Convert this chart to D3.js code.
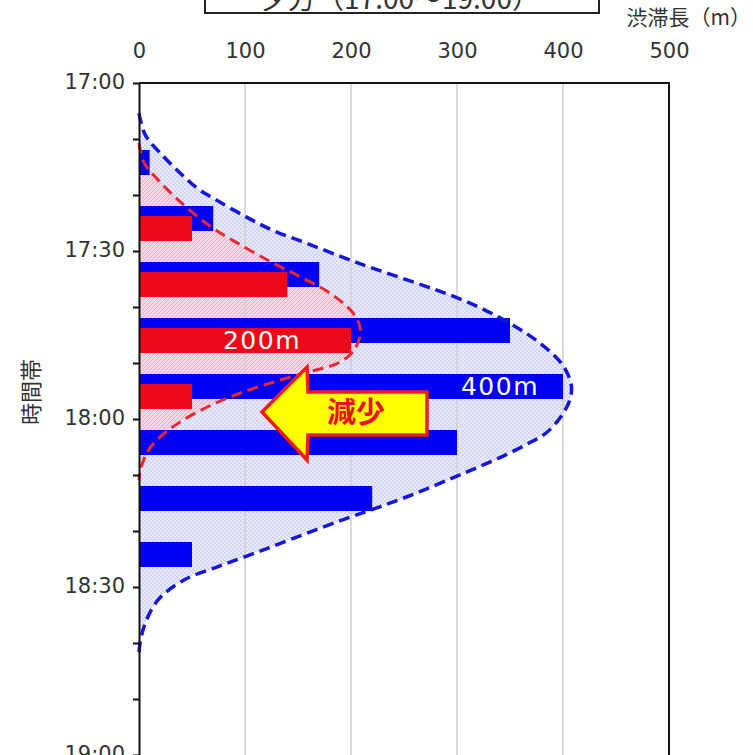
<!DOCTYPE html>
<html>
<head>
<meta charset="utf-8">
<script src="https://cdn.jsdelivr.net/npm/d3@7"></script>
<style>
  html, body { margin: 0; padding: 0; background: #fff; }
  svg { display: block; }
  text { font-family: "DejaVu Sans", Verdana, sans-serif; }
  .jp { font-family: "Noto Sans CJK JP", sans-serif; }
</style>
</head>
<body>
<div id="chart"></div>
<script>
// slots of 10 minutes, counted in minutes after 17:00
var slotStart = [10, 20, 30, 40, 50, 60, 70, 80];
var beforeLen = [10, 70, 170, 350, 400, 300, 220, 50];   // blue
var afterLen  = [0, 50, 140, 200, 50, 0, 0, 0];         // red

var xTicks = [0, 100, 200, 300, 400, 500];
var yTicks = [0, 10, 20, 30, 40, 50, 60, 70, 80, 90, 100, 110, 120];
var yLabels = {0: "17:00", 30: "17:30", 60: "18:00", 90: "18:30", 120: "19:00"};

// envelope curves: minute, length
var blueCurveMin = [5.4, 9.3, 12.9, 16.1, 18.8, 20.9, 23.9, 26.3, 28.6, 31.1, 32.9, 36.4, 38.2, 40.5, 43.6, 46.4, 49.5, 51.8, 54.3, 56.8, 59.6, 62.5, 64.3, 66.5, 68.6, 70.5, 73.2, 75.7, 78.0, 81.0, 83.9, 86.4, 88.8, 92.3, 96.4, 100.0, 101.8];
var blueCurveVal = [0, 6, 22, 39, 55, 73, 101, 126, 158, 192, 218, 272, 298, 326, 356, 378, 396, 404, 408, 406, 398, 384, 368, 345, 320, 296, 262, 227, 192, 150, 110, 74, 42, 18, 6, 1, 0];
var redCurveMin = [10.7, 14.3, 17.3, 21.4, 25.7, 28.6, 32.1, 34.6, 37.5, 41.1, 44.1, 47.7, 50.0, 51.3, 53.0, 55.2, 57.9, 61.4, 65.0, 68.6, 70.9];
var redCurveVal = [0, 5, 18, 40, 68, 93, 126, 152, 180, 202, 209, 203, 188, 166, 134, 98, 64, 32, 11, 2, 0];

var W = 753, H = 755;
var svg = d3.select("#chart").append("svg").attr("width", W).attr("height", H);

var x = d3.scaleLinear().domain([0, 500]).range([139, 669]);
var y = d3.scaleLinear().domain([0, 120]).range([83, 755]);

// patterns for the shaded envelopes
var defs = svg.append("defs");
var bp = defs.append("pattern").attr("id", "bluePat").attr("patternUnits", "userSpaceOnUse")
  .attr("width", 4).attr("height", 4);
bp.append("rect").attr("width", 4).attr("height", 4).attr("fill", "#e9ebfc");
bp.append("circle").attr("cx", 1).attr("cy", 1).attr("r", 0.9).attr("fill", "#c8ccf3");
bp.append("circle").attr("cx", 3).attr("cy", 3).attr("r", 0.9).attr("fill", "#c8ccf3");
var rp = defs.append("pattern").attr("id", "redPat").attr("patternUnits", "userSpaceOnUse")
  .attr("width", 4).attr("height", 4);
rp.append("rect").attr("width", 4).attr("height", 4).attr("fill", "#f2d8e3");
rp.append("path").attr("d", "M0,4 L4,0 M-1,1 L1,-1 M3,5 L5,3").attr("stroke", "#dfaec2").attr("stroke-width", 1);

var blueCurve = blueCurveMin.map(function(m, i) { return {m: m, v: blueCurveVal[i]}; });
var redCurve = redCurveMin.map(function(m, i) { return {m: m, v: redCurveVal[i]}; });

var area = d3.area().curve(d3.curveCatmullRom.alpha(0.5))
  .y(function(d) { return y(d.m); })
  .x0(x(0))
  .x1(function(d) { return x(d.v); });
var line = d3.line().curve(d3.curveCatmullRom.alpha(0.5))
  .y(function(d) { return y(d.m); })
  .x(function(d) { return x(d.v); });

svg.append("path").datum(blueCurve).attr("d", area).attr("fill", "url(#bluePat)");
svg.append("path").datum(redCurve).attr("d", area).attr("fill", "url(#redPat)");

// grid
svg.append("g").selectAll("line").data(xTicks.slice(1, 5)).join("line")
  .attr("x1", function(d) { return x(d); }).attr("x2", function(d) { return x(d); })
  .attr("y1", y(0)).attr("y2", y(120))
  .attr("stroke", "#cfcfcf").attr("stroke-width", 1.5);

// frame
svg.append("path")
  .attr("d", "M" + x(0) + "," + y(0) + "H" + x(500) + "V" + y(120))
  .attr("fill", "none").attr("stroke", "#111").attr("stroke-width", 2);

// bars
svg.append("g").selectAll("rect").data(slotStart).join("rect")
  .attr("x", x(0))
  .attr("y", function(d) { return y(d) + 11; })
  .attr("width", function(d, i) { return x(beforeLen[i]) - x(0); })
  .attr("height", 25)
  .attr("fill", "#0000f5");
svg.append("g").selectAll("rect").data(slotStart).join("rect")
  .attr("x", x(0))
  .attr("y", function(d) { return y(d) + 21; })
  .attr("width", function(d, i) { return x(afterLen[i]) - x(0); })
  .attr("height", 25)
  .attr("fill", "#ec0a1a");

// dashed envelopes
svg.append("path").datum(blueCurve).attr("d", line)
  .attr("fill", "none").attr("stroke", "#1616d8").attr("stroke-width", 3.5)
  .attr("stroke-dasharray", "11,6");
svg.append("path").datum(redCurve).attr("d", line)
  .attr("fill", "none").attr("stroke", "#e82a30").attr("stroke-width", 3)
  .attr("stroke-dasharray", "11,6");

// axes
var yAxis = svg.append("g").attr("transform", "translate(" + x(0) + ",0)")
  .call(d3.axisLeft(y).tickValues(yTicks).tickSize(6).tickSizeOuter(0)
    .tickFormat(function(d) { return yLabels[d] || ""; }));
yAxis.select(".domain").attr("stroke", "#111").attr("stroke-width", 2);
yAxis.selectAll(".tick line").attr("stroke", "#111").attr("stroke-width", 2);
yAxis.selectAll(".tick text").attr("fill", "#333").attr("x", -14).attr("dy", "0.25em")
  .style("font-size", "21px");

var xAxis = svg.append("g").attr("transform", "translate(0,58)")
  .call(d3.axisTop(x).tickValues(xTicks).tickSize(0).tickPadding(0));
xAxis.select(".domain").remove();
xAxis.selectAll(".tick text").attr("fill", "#333").style("font-size", "21px");

// axis titles
svg.append("text").attr("class", "jp").attr("x", 751).attr("y", 25)
  .attr("text-anchor", "end").attr("fill", "#333").style("font-size", "21px")
  .text("渋滞長（m）");
svg.append("text").attr("class", "jp")
  .attr("transform", "translate(39,392) rotate(-90)")
  .attr("text-anchor", "middle").attr("fill", "#333").style("font-size", "22px")
  .text("時間帯");

// title box, cut off at the top
svg.append("path").attr("d", "M205,-2V13H599V-2")
  .attr("fill", "none").attr("stroke", "#222").attr("stroke-width", 2);
svg.append("text").attr("class", "jp").attr("x", 400).attr("y", 9)
  .attr("text-anchor", "middle").attr("fill", "#333").style("font-size", "28px")
  .text("夕方（17:00～19:00）");

// value labels in the bars
svg.append("text").attr("x", 262).attr("y", y(40) + 21 + 21)
  .attr("text-anchor", "middle").attr("fill", "#fff").style("font-size", "25px")
  .style("letter-spacing", "1.5px").text("200m");
svg.append("text").attr("x", 500).attr("y", y(50) + 11 + 21)
  .attr("text-anchor", "middle").attr("fill", "#fff").style("font-size", "25px")
  .style("letter-spacing", "1.5px").text("400m");

// arrow
svg.append("path")
  .attr("d", "M262,412 L307,367 L308,392 L427,392 L427,435 L308,435 L307,460 Z")
  .attr("fill", "#ffff00").attr("stroke", "#ee1c1c").attr("stroke-width", 3.5)
  .attr("stroke-linejoin", "miter");
svg.append("text").attr("class", "jp").attr("x", 356).attr("y", 423)
  .attr("text-anchor", "middle").attr("fill", "#e8101a").style("font-size", "29px")
  .style("font-weight", "bold").text("減少");
</script>
</body>
</html>
